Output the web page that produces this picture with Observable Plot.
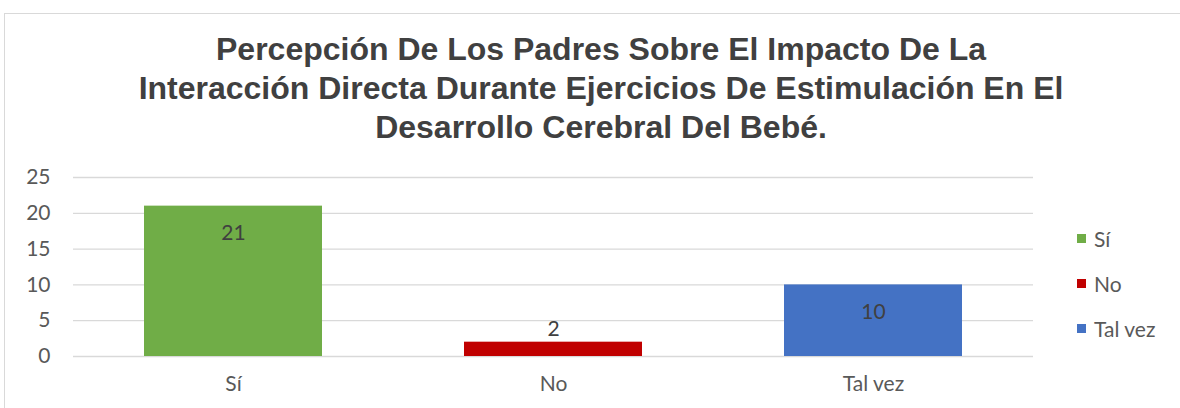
<!DOCTYPE html>
<html>
<head>
<meta charset="utf-8">
<script src="https://cdn.jsdelivr.net/npm/d3@7"></script>
<script src="https://cdn.jsdelivr.net/npm/@observablehq/plot@0.6"></script>
<style>
  html, body { margin: 0; padding: 0; background: #fff; }
  #wrap { position: relative; width: 1180px; height: 408px; overflow: hidden; }
  #frame { position: absolute; left: 4px; top: 13px; width: 1190px; height: 420px; border: 1px solid #d9d9d9; box-sizing: border-box; }
  #title { position: absolute; left: 0; top: 30px; width: 1202px; text-align: center;
    font-family: "Liberation Sans", Arial, sans-serif; font-weight: bold; font-size: 32px; line-height: 39px; color: #404040; }
  #legend { position: absolute; left: 1077px; top: 216px; font-family: Lato, "Open Sans", sans-serif; font-size: 21px; color: #595959; }
  .item { height: 45px; line-height: 45px; display: flex; align-items: center; }
  .sw { width: 9px; height: 9px; margin-right: 8px; }
  #chart { position: absolute; left: 0; top: 0; }
</style>
</head>
<body>
<div id="wrap">
  <div id="frame"></div>
  <div id="chart"></div>
  <div id="title"></div>
  <div id="legend"></div>
</div>
<script>
const titleLines = [
  "Percepción De Los Padres Sobre El Impacto De La",
  "Interacción Directa Durante Ejercicios De Estimulación En El",
  "Desarrollo Cerebral Del Bebé."
];
const categories = ["Sí", "No", "Tal vez"];
const values = [21, 2, 10];
const colors = ["#70ad47", "#c00000", "#4472c4"];
const yTicks = [0, 5, 10, 15, 20, 25];

const data = categories.map((c, i) => ({ cat: c, value: values[i], color: colors[i] }));

document.getElementById("title").innerHTML = titleLines.map(t => `<div>${t}</div>`).join("");
document.getElementById("legend").innerHTML = categories.map((c, i) =>
  `<div class="item"><div class="sw" style="background:${colors[i]}"></div><span>${c}</span></div>`).join("");

const chart = Plot.plot({
  width: 1180,
  height: 408,
  marginLeft: 73,
  marginRight: 147,
  marginTop: 177,
  marginBottom: 52,
  style: { fontFamily: "Lato, 'Open Sans', sans-serif", fontSize: "21px", color: "#595959", background: "transparent", overflow: "visible" },
  x: { domain: categories, padding: 0, label: null, tickSize: 0, tickPadding: 20 },
  y: { domain: [0, 25], ticks: yTicks, label: null, tickSize: 0, tickPadding: 23 },
  marks: [
    Plot.ruleY(yTicks, { stroke: "#d9d9d9", strokeWidth: 1.3 }),
    Plot.barY(data, { x: "cat", y: "value", fill: "color", insetLeft: 71, insetRight: 71 }),
    Plot.text(data.filter(d => d.value >= 5), { x: "cat", y: "value", text: d => String(d.value), dy: 27, fill: "#404040", fontSize: 21 }),
    Plot.text(data.filter(d => d.value < 5), { x: "cat", y: "value", text: d => String(d.value), dy: -13, fill: "#404040", fontSize: 21 })
  ]
});
document.getElementById("chart").appendChild(chart);
</script>
</body>
</html>
